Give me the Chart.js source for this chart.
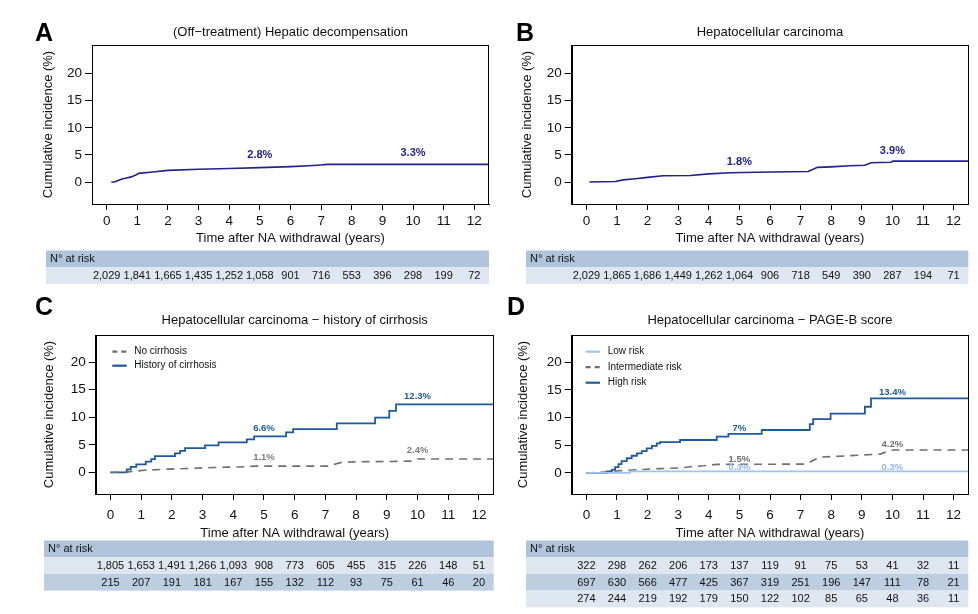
<!DOCTYPE html>
<html>
<head>
<meta charset="utf-8">
<script src="https://cdn.jsdelivr.net/npm/chart.js@4.4.1/dist/chart.umd.min.js"></script>
<style>
  html, body { margin: 0; padding: 0; background: #fff; }
  body { width: 978px; height: 614px; position: relative; overflow: hidden; }
  .panel { position: absolute; }
  .letter { position: absolute; font: bold 25px 'Liberation Sans', Arial, sans-serif; line-height: 25px; color: #000; }
</style>
</head>
<body>
<div class="panel" style="left:0;top:0"><canvas id="chartA" width="495" height="290"></canvas></div>
<div class="panel" style="left:490px;top:0"><canvas id="chartB" width="488" height="290"></canvas></div>
<div class="panel" style="left:0;top:290px"><canvas id="chartC" width="500" height="310"></canvas></div>
<div class="panel" style="left:490px;top:290px"><canvas id="chartD" width="488" height="324"></canvas></div>
<div class="letter" style="left:35px;top:20px">A</div>
<div class="letter" style="left:516px;top:20px">B</div>
<div class="letter" style="left:35px;top:294px">C</div>
<div class="letter" style="left:507px;top:294px">D</div>
<script>
Chart.defaults.font.family = "'Liberation Sans', Arial, Helvetica, sans-serif";
Chart.defaults.color = '#111';

const yearTicks = [0, 1, 2, 3, 4, 5, 6, 7, 8, 9, 10, 11, 12];
const incidenceTicks = [0, 5, 10, 15, 20];

// A - hepatic decompensation
const decompYears = [0.15, 0.25, 0.35, 0.5, 0.65, 0.8, 0.95, 1.05, 1.5, 2.0, 3.0, 4.0, 5.0, 6.0, 6.6, 7.0, 7.2, 12.5];
const decompPct   = [0, 0, 0.25, 0.55, 0.75, 0.95, 1.3, 1.6, 1.85, 2.15, 2.35, 2.5, 2.65, 2.85, 3.0, 3.15, 3.25, 3.25];
const decompLabels = ['2.8%', '3.3%'];
const decompAtRisk = [2029, 1841, 1665, 1435, 1252, 1058, 901, 716, 553, 396, 298, 199, 72];

// B - HCC overall
const hccYears = [0.1, 0.95, 1.2, 1.6, 2.0, 2.5, 3.4, 4.0, 4.7, 6.0, 7.25, 7.55, 8.0, 8.6, 9.1, 9.3, 9.95, 10.02, 12.5];
const hccPct   = [0, 0.1, 0.4, 0.6, 0.85, 1.15, 1.2, 1.5, 1.7, 1.85, 1.95, 2.7, 2.8, 3.0, 3.1, 3.55, 3.65, 3.85, 3.85];
const hccLabels = ['1.8%', '3.9%'];
const hccAtRisk = [2029, 1865, 1686, 1449, 1262, 1064, 906, 718, 549, 390, 287, 194, 71];

// C - HCC by history of cirrhosis
const noCirrYears = [0, 0.55, 1.1, 1.85, 2.5, 3.35, 4.2, 4.75, 7.15, 7.3, 7.58, 9.85, 10.0, 12.5];
const noCirrPct   = [0, 0.1, 0.4, 0.6, 0.72, 0.9, 1.0, 1.15, 1.15, 1.5, 1.9, 2.05, 2.45, 2.45];
const cirrYears = [0, 0.53, 0.66, 0.84, 1.15, 1.33, 1.45, 2.1, 2.27, 2.43, 3.08, 3.52, 4.44, 4.68, 5.72, 5.95, 7.37, 8.62, 9.08, 9.3, 12.5];
const cirrPct   = [0, 0.55, 1.0, 1.45, 1.95, 2.4, 2.95, 3.45, 3.9, 4.4, 4.9, 5.45, 6.0, 6.55, 7.25, 7.85, 8.9, 9.95, 11.15, 12.35, 12.35];
const noCirrLabels = ['1.1%', '2.4%'];
const cirrLabels = ['6.6%', '12.3%'];
const noCirrAtRisk = [1805, 1653, 1491, 1266, 1093, 908, 773, 605, 455, 315, 226, 148, 51];
const cirrAtRisk = [215, 207, 191, 181, 167, 155, 132, 112, 93, 75, 61, 46, 20];

// D - HCC by PAGE-B score
const lowYears = [0, 1.43, 12.5];
const lowPct   = [0, 0.3, 0.3];
const midYears = [0, 0.66, 1.1, 1.7, 2.35, 3.06, 3.44, 3.82, 4.26, 7.2, 7.35, 7.63, 9.6, 9.95, 12.5];
const midPct   = [0, 0.2, 0.4, 0.6, 0.78, 0.9, 1.15, 1.3, 1.55, 1.6, 2.1, 2.85, 3.4, 4.15, 4.15];
const highYears = [0, 0.66, 0.83, 0.94, 1.05, 1.15, 1.32, 1.48, 1.65, 1.81, 1.97, 2.14, 2.3, 2.41, 3.06, 4.26, 4.64, 5.73, 7.3, 7.41, 7.98, 9.1, 9.3, 12.5];
const highPct   = [0, 0.3, 0.55, 1.05, 1.6, 2.15, 2.65, 3.1, 3.55, 3.95, 4.45, 4.9, 5.35, 5.55, 5.95, 6.55, 7.05, 7.75, 8.8, 9.7, 10.7, 11.95, 13.45, 13.45];
const lowLabels = ['0.3%', '0.3%'];
const midLabels = ['1.5%', '4.2%'];
const highLabels = ['7%', '13.4%'];
const lowAtRisk = [322, 298, 262, 206, 173, 137, 119, 91, 75, 53, 41, 32, 11];
const midAtRisk = [697, 630, 566, 477, 425, 367, 319, 251, 196, 147, 111, 78, 21];
const highAtRisk = [274, 244, 219, 192, 179, 150, 122, 102, 85, 65, 48, 36, 11];

// the percentages are printed at these years
const labelYears = [5, 10];

const NAVY = '#22228c';
const BLUE = '#1d5a9b';
const LIGHT = '#9ec3ec';
const GREY = '#6e6e6e';
const HEAD_BG = '#afc4da';
const ROW_LIGHT = '#dee6f0';
const ROW_MID = '#bdcee1';

function pts(xs, ys) {
  return xs.map((x, i) => ({ x: x, y: ys[i] }));
}

// plugins that need the panel config, built per chart
function panelPlugins(p) {
  return [{
    id: 'panelExtras',
    afterDatasetsDraw(chart) {
      const ctx = chart.ctx, a = chart.chartArea;
      const xs = chart.scales.x, ys = chart.scales.y;
      ctx.save();
      // frame round the plot
      ctx.strokeStyle = '#000';
      ctx.lineWidth = 1;
      ctx.strokeRect(Math.round(a.left) + 0.5, Math.round(a.top) + 0.5,
        Math.round(a.right - a.left) - 1, Math.round(a.bottom - a.top));

      // percentages at 5 and 10 years
      ctx.font = 'bold ' + p.labelSize + 'px ' + Chart.defaults.font.family;
      ctx.textAlign = 'center';
      ctx.textBaseline = 'middle';
      p.series.forEach(s => {
        s.labels.forEach((t, i) => {
          ctx.fillStyle = s.labelColor || s.color;
          ctx.fillText(t, xs.getPixelForValue(labelYears[i]),
            ys.getPixelForValue(parseFloat(t)) - s.labelOffset);
        });
      });

      // legend inside the plot
      if (p.legend) {
        ctx.font = p.legend.size + 'px ' + Chart.defaults.font.family;
        ctx.textAlign = 'left';
        p.series.forEach((s, i) => {
          const y = a.top + p.legend.top + i * p.legend.gap;
          ctx.strokeStyle = s.color;
          ctx.lineWidth = 2.2;
          ctx.setLineDash(s.dash ? [5, 4] : []);
          ctx.beginPath();
          ctx.moveTo(a.left + p.legend.x0, y);
          ctx.lineTo(a.left + p.legend.x1, y);
          ctx.stroke();
          ctx.setLineDash([]);
          ctx.fillStyle = '#111';
          ctx.fillText(s.label, a.left + p.legend.tx, y);
        });
      }
      ctx.restore();
    },
    afterDraw(chart) {
      // number at risk table
      const ctx = chart.ctx, a = chart.chartArea, xs = chart.scales.x;
      const rowH = 16.7;
      const top = a.bottom + 46.5;
      const right = a.right;
      ctx.save();
      ctx.fillStyle = HEAD_BG;
      ctx.fillRect(p.tableLeft, top, right - p.tableLeft, rowH);
      ctx.font = '11px ' + Chart.defaults.font.family;
      ctx.textBaseline = 'middle';
      ctx.textAlign = 'left';
      ctx.fillStyle = '#111';
      ctx.fillText('N° at risk', p.tableLeft + 4, top + rowH / 2 + 0.5);
      p.series.forEach((s, i) => {
        const y = top + rowH * (i + 1);
        ctx.fillStyle = i % 2 === 0 ? ROW_LIGHT : ROW_MID;
        ctx.fillRect(p.tableLeft, y, right - p.tableLeft, rowH);
        ctx.fillStyle = '#111';
        ctx.textAlign = 'center';
        s.atRisk.forEach((n, j) => {
          ctx.fillText(n.toLocaleString('en-US'), xs.getPixelForValue(yearTicks[j]), y + rowH / 2 + 0.5);
        });
      });
      ctx.restore();
    }
  }];
}

function makePanel(p) {
  new Chart(document.getElementById(p.id), {
    type: 'line',
    data: {
      datasets: p.series.map(s => ({
        label: s.label,
        data: pts(s.years, s.pct),
        borderColor: s.color,
        borderWidth: s.width,
        borderDash: s.dash || [],
        stepped: s.stepped ? 'before' : false,
        pointRadius: 0,
        fill: false,
        tension: 0
      }))
    },
    options: {
      responsive: false,
      animation: false,
      events: [],
      layout: { padding: { left: 0, top: 0, right: p.padRight, bottom: p.padBottom } },
      plugins: {
        legend: { display: false },
        tooltip: { enabled: false },
        title: {
          display: true, text: p.title, fullSize: false, color: '#111',
          font: { size: 13, weight: 'normal' },
          padding: { top: p.titleTop, bottom: 45 - 15.6 - p.titleTop }
        }
      },
      scales: {
        x: {
          type: 'linear', min: -0.48, max: 12.48,
          afterBuildTicks: ax => { ax.ticks = yearTicks.map(v => ({ value: v })); },
          afterFit: ax => { ax.height = p.xAxisH; },
          grid: { drawOnChartArea: false, drawTicks: true, tickLength: 6, color: '#000' },
          border: { display: true, color: '#000' },
          ticks: { padding: p.xTickPad, font: { size: 13.5 }, color: '#111', maxRotation: 0, autoSkip: false },
          title: {
            display: true, text: 'Time after NA withdrawal (years)', color: '#111',
            font: { size: 13 }, padding: { top: 0, bottom: p.xTitlePad }
          }
        },
        y: {
          type: 'linear', min: p.yMin, max: p.yMax,
          afterBuildTicks: ax => { ax.ticks = incidenceTicks.map(v => ({ value: v })); },
          afterFit: ax => { ax.width = p.yAxisW; },
          grid: { drawOnChartArea: false, drawTicks: true, tickLength: 7, color: '#000' },
          border: { display: true, color: '#000' },
          ticks: { padding: 3, font: { size: 13.5 }, color: '#111' },
          title: {
            display: true, text: 'Cumulative incidence (%)', color: '#111',
            font: { size: 13 }, padding: { top: p.yTitlePad, bottom: 0 }
          }
        }
      }
    },
    plugins: panelPlugins(p)
  });
}

makePanel({
  id: 'chartA', title: '(Off\u2212treatment) Hepatic decompensation',
  padRight: 6, padBottom: 40, xAxisH: 46, xTickPad: 3, xTitlePad: 4,
  yAxisW: 92, yTitlePad: 41, titleTop: 24.2, yMin: -4.06, yMax: 25.3,
  tableLeft: 46, labelSize: 11,
  series: [{ label: '', years: decompYears, pct: decompPct, color: NAVY, width: 1.6,
    labels: decompLabels, labelOffset: 11.5, atRisk: decompAtRisk }]
});

makePanel({
  id: 'chartB', title: 'Hepatocellular carcinoma',
  padRight: 9.7, padBottom: 40, xAxisH: 46, xTickPad: 3, xTitlePad: 4,
  yAxisW: 81.7, yTitlePad: 29.5, titleTop: 24.9, yMin: -4.06, yMax: 25.3,
  tableLeft: 36, labelSize: 11,
  series: [{ label: '', years: hccYears, pct: hccPct, color: NAVY, width: 1.6,
    labels: hccLabels, labelOffset: 10, atRisk: hccAtRisk }]
});

makePanel({
  id: 'chartC', title: 'Hepatocellular carcinoma \u2212 history of cirrhosis',
  padRight: 6.3, padBottom: 50, xAxisH: 56, xTickPad: 7.6, xTitlePad: 8.9,
  yAxisW: 95.7, yTitlePad: 41.2, titleTop: 22.9, yMin: -3.9, yMax: 24.9,
  tableLeft: 44, labelSize: 9.5,
  legend: { size: 10, top: 16.7, gap: 14, x0: 16.6, x1: 31, tx: 38.6 },
  series: [
    { label: 'No cirrhosis', years: noCirrYears, pct: noCirrPct, color: GREY, width: 1.6, dash: [8, 6],
      labels: noCirrLabels, labelColor: '#7a7a7a', labelOffset: 9, atRisk: noCirrAtRisk },
    { label: 'History of cirrhosis', years: cirrYears, pct: cirrPct, color: BLUE, width: 1.8, stepped: true,
      labels: cirrLabels, labelOffset: 8, atRisk: cirrAtRisk }
  ]
});

makePanel({
  id: 'chartD', title: 'Hepatocellular carcinoma \u2212 PAGE-B score',
  padRight: 9.7, padBottom: 64, xAxisH: 56, xTickPad: 7.6, xTitlePad: 8.9,
  yAxisW: 81.7, yTitlePad: 25.5, titleTop: 22.9, yMin: -3.8, yMax: 24.9,
  tableLeft: 36, labelSize: 9.5,
  legend: { size: 10, top: 16.7, gap: 15.5, x0: 14, x1: 28.3, tx: 36 },
  series: [
    { label: 'Low risk', years: lowYears, pct: lowPct, color: LIGHT, width: 1.8, stepped: true,
      labels: lowLabels, labelColor: '#8fb6e6', labelOffset: 3.6, atRisk: lowAtRisk },
    { label: 'Intermediate risk', years: midYears, pct: midPct, color: GREY, width: 1.6, dash: [8, 6],
      labels: midLabels, labelColor: '#6e6e6e', labelOffset: 5, atRisk: midAtRisk },
    { label: 'High risk', years: highYears, pct: highPct, color: BLUE, width: 1.8, stepped: true,
      labels: highLabels, labelOffset: 6.2, atRisk: highAtRisk }
  ]
});
</script>
</body>
</html>
